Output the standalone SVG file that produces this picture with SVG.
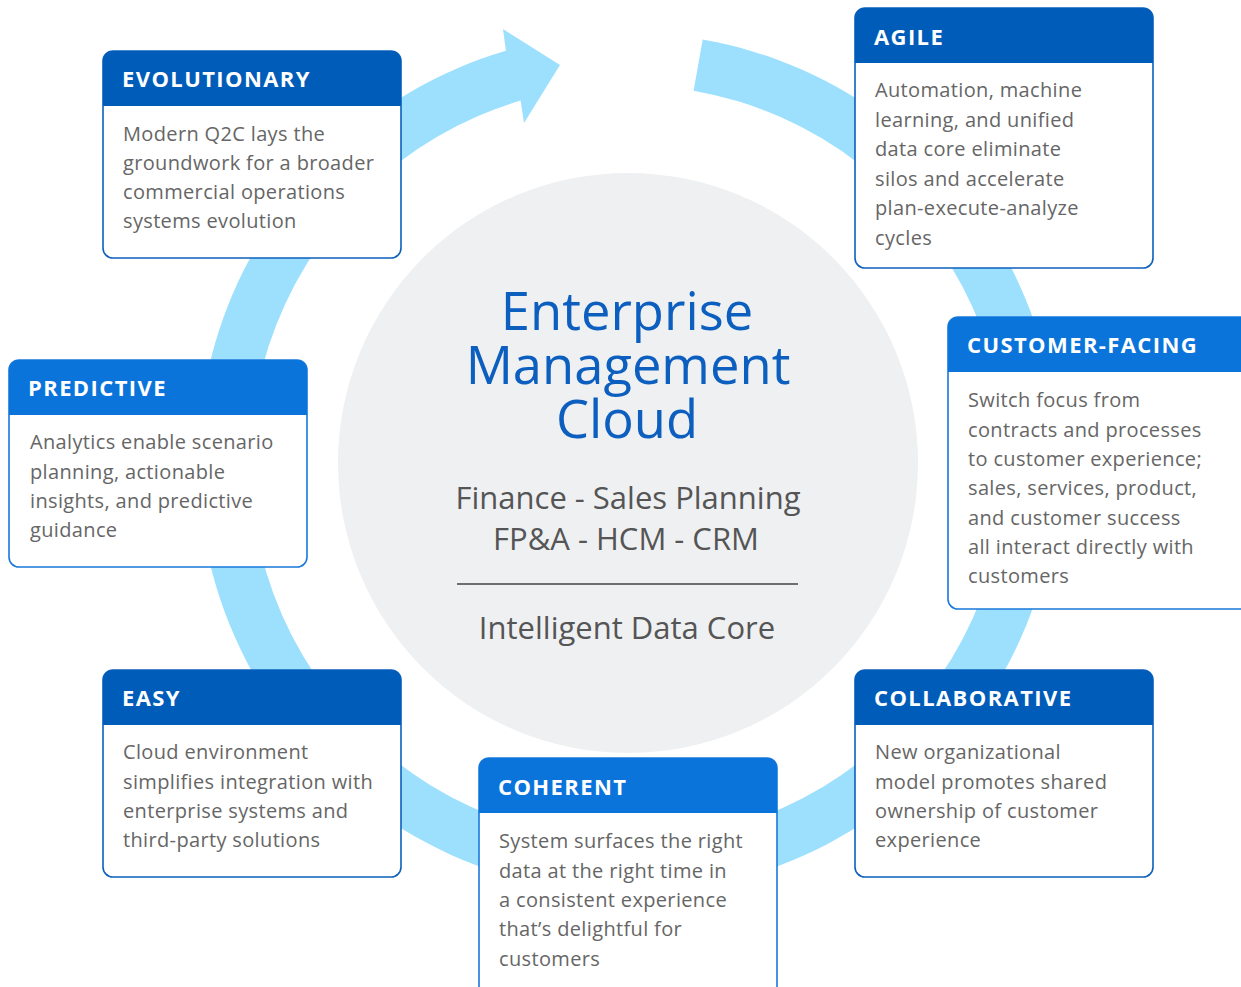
<svg xmlns="http://www.w3.org/2000/svg" width="1241" height="987" viewBox="0 0 1241 987">
  <style>
    .ring { fill: #9ce0fe; }
    .core { fill: #eff0f2; }
    .card { fill: #ffffff; stroke-width: 1.6; }
    .dark .card { stroke: #0c5fbd; }
    .dark .hd { fill: #005cb9; }
    .bright .card { stroke: #1a78dc; }
    .bright .hd { fill: #0a74da; }
    .ht { font-family: "Open Sans", "Liberation Sans", sans-serif; font-weight: 700; font-size: 22px; letter-spacing: 1.4px; fill: #ffffff; }
    .bt { font-family: "Open Sans", "Liberation Sans", sans-serif; font-size: 20px; letter-spacing: 0.35px; fill: #666666; }
    .title { font-family: "Open Sans", "Liberation Sans", sans-serif; font-size: 52.5px; fill: #0d5fbf; text-anchor: middle; }
    .sub { font-family: "Open Sans", "Liberation Sans", sans-serif; font-size: 31px; fill: #555555; text-anchor: middle; }
  </style>

  <!-- circular cycle arrow -->
  <g id="connectors">
    <path class="ring" d="M702.7 39.5 A430 430 0 1 1 505.9 50.7 L503 29 L560 65 L524 123 L520.6 100.6 A378 378 0 1 0 693.6 90.7 Z"/>
  </g>

  <!-- centre disc -->
  <g id="center">
    <circle class="core" cx="628" cy="463" r="290"/>
    <text class="title" x="627" y="330">Enterprise</text>
    <text class="title" x="628" y="384">Management</text>
    <text class="title" x="627" y="438">Cloud</text>
    <text class="sub" x="628" y="509">Finance - Sales Planning</text>
    <text class="sub" x="626" y="550">FP&amp;A - HCM - CRM</text>
    <line x1="457" y1="584" x2="798" y2="584" stroke="#444" stroke-width="1.5"/>
    <text class="sub" x="627" y="639">Intelligent Data Core</text>
  </g>

  <g id="evolutionary" class="dark">
    <rect class="card" x="103" y="51" width="298" height="207" rx="10"/>
    <path class="hd" d="M103 106 V61 a10 10 0 0 1 10 -10 H391 a10 10 0 0 1 10 10 V106 Z"/>
    <text class="ht" x="122" y="87">EVOLUTIONARY</text>
    <text class="bt" x="123" y="141">Modern Q2C lays the</text>
    <text class="bt" x="123" y="170">groundwork for a broader</text>
    <text class="bt" x="123" y="199">commercial operations</text>
    <text class="bt" x="123" y="228">systems evolution</text>
  </g>

  <g id="agile" class="dark">
    <rect class="card" x="855" y="8" width="298" height="260" rx="10"/>
    <path class="hd" d="M855 63 V18 a10 10 0 0 1 10 -10 H1143 a10 10 0 0 1 10 10 V63 Z"/>
    <text class="ht" x="874" y="45">AGILE</text>
    <text class="bt" x="875" y="97">Automation, machine</text>
    <text class="bt" x="875" y="126.5">learning, and unified</text>
    <text class="bt" x="875" y="156">data core eliminate</text>
    <text class="bt" x="875" y="185.5">silos and accelerate</text>
    <text class="bt" x="875" y="215">plan-execute-analyze</text>
    <text class="bt" x="875" y="244.5">cycles</text>
  </g>

  <g id="customer-facing" class="bright">
    <rect class="card" x="948" y="317" width="310" height="292" rx="10"/>
    <path class="hd" d="M948 372 V327 a10 10 0 0 1 10 -10 H1248 a10 10 0 0 1 10 10 V372 Z"/>
    <text class="ht" x="967" y="353">CUSTOMER-FACING</text>
    <text class="bt" x="968" y="407">Switch focus from</text>
    <text class="bt" x="968" y="436.5">contracts and processes</text>
    <text class="bt" x="968" y="466">to customer experience;</text>
    <text class="bt" x="968" y="495">sales, services, product,</text>
    <text class="bt" x="968" y="524.5">and customer success</text>
    <text class="bt" x="968" y="554">all interact directly with</text>
    <text class="bt" x="968" y="583">customers</text>
  </g>

  <g id="predictive" class="bright">
    <rect class="card" x="9" y="360" width="298" height="207" rx="10"/>
    <path class="hd" d="M9 415 V370 a10 10 0 0 1 10 -10 H297 a10 10 0 0 1 10 10 V415 Z"/>
    <text class="ht" x="28" y="396">PREDICTIVE</text>
    <text class="bt" x="30" y="449">Analytics enable scenario</text>
    <text class="bt" x="30" y="478.5">planning, actionable</text>
    <text class="bt" x="30" y="508">insights, and predictive</text>
    <text class="bt" x="30" y="537">guidance</text>
  </g>

  <g id="easy" class="dark">
    <rect class="card" x="103" y="670" width="298" height="207" rx="10"/>
    <path class="hd" d="M103 725 V680 a10 10 0 0 1 10 -10 H391 a10 10 0 0 1 10 10 V725 Z"/>
    <text class="ht" x="122" y="706">EASY</text>
    <text class="bt" x="123" y="759">Cloud environment</text>
    <text class="bt" x="123" y="788.5">simplifies integration with</text>
    <text class="bt" x="123" y="818">enterprise systems and</text>
    <text class="bt" x="123" y="847">third-party solutions</text>
  </g>

  <g id="collaborative" class="dark">
    <rect class="card" x="855" y="670" width="298" height="207" rx="10"/>
    <path class="hd" d="M855 725 V680 a10 10 0 0 1 10 -10 H1143 a10 10 0 0 1 10 10 V725 Z"/>
    <text class="ht" x="874" y="706">COLLABORATIVE</text>
    <text class="bt" x="875" y="759">New organizational</text>
    <text class="bt" x="875" y="788.5">model promotes shared</text>
    <text class="bt" x="875" y="818">ownership of customer</text>
    <text class="bt" x="875" y="847">experience</text>
  </g>

  <g id="coherent" class="bright">
    <rect class="card" x="479" y="758" width="298" height="245" rx="10"/>
    <path class="hd" d="M479 813 V768 a10 10 0 0 1 10 -10 H767 a10 10 0 0 1 10 10 V813 Z"/>
    <text class="ht" x="498" y="795">COHERENT</text>
    <text class="bt" x="499" y="848">System surfaces the right</text>
    <text class="bt" x="499" y="877.5">data at the right time in</text>
    <text class="bt" x="499" y="907">a consistent experience</text>
    <text class="bt" x="499" y="936">that’s delightful for</text>
    <text class="bt" x="499" y="965.5">customers</text>
  </g>
</svg>
